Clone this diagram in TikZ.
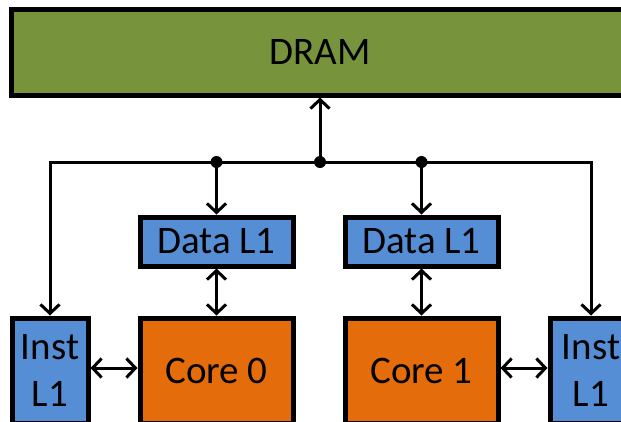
\documentclass[tikz,border=0pt]{standalone}
\usepackage{fontspec}
\setmainfont{Carlito}
\usetikzlibrary{arrows.meta}
\definecolor{dramgreen}{HTML}{77933C}
\definecolor{cacheblue}{HTML}{558ED5}
\definecolor{coreorange}{HTML}{E46C0A}
\tikzset{
  blk/.style={draw=black, line width=5pt, inner sep=0pt, text=black,
    font=\fontsize{39}{47}\selectfont, align=center},
  dramblk/.style={blk, fill=dramgreen},
  cacheblk/.style={blk, fill=cacheblue},
  coreblk/.style={blk, fill=coreorange},
  wire/.style={draw=black, line width=3pt},
  tip/.style={wire, -{Straight Barb[length=9pt,width=19pt,line width=3pt]}},
  dtip/.style={wire, {Straight Barb[length=9pt,width=19pt,line width=3pt]}-{Straight Barb[length=9pt,width=19pt,line width=3pt]}},
  junction/.style={circle, fill=black, inner sep=0pt, minimum size=12pt}
}
\begin{document}
\begin{tikzpicture}[x=1pt,y=-1pt]
\useasboundingbox (0,0) rectangle (621,421);
\clip (0,0) rectangle (621,421);
\fill[white] (0,0) rectangle (621,421);

% memory and caches
\node[dramblk, minimum width=617pt, minimum height=86pt] (dram) at (320,52) {DRAM};
\node[cacheblk, minimum width=153pt, minimum height=49pt] (dl0) at (216.5,241.5) {Data L1};
\node[cacheblk, minimum width=153pt, minimum height=49pt] (dl1) at (421.5,241.5) {Data L1};
\node[coreblk, minimum width=153pt, minimum height=105pt] (core0) at (216.5,370.5) {Core 0};
\node[coreblk, minimum width=153pt, minimum height=105pt] (core1) at (421.5,370.5) {Core 1};
\node[cacheblk, minimum width=76pt, minimum height=105pt] (inst0) at (50,370.5) {Inst\\L1};
\node[cacheblk, minimum width=82pt, minimum height=105pt] (inst1) at (591,370.5) {Inst\\L1};

% shared bus
\coordinate (busL) at (50,162);
\coordinate (busR) at (591,162);
\node[junction] (j0) at (216.5,162) {};
\node[junction] (jm) at (320,162) {};
\node[junction] (j1) at (421.5,162) {};

\draw[wire, line join=miter] (busL |- inst0.north) ++(0,-10) -- (busL) -- (busR) -- ++(0,10);
\draw[tip] (jm.center) -- (jm.center |- dram.south);
\draw[tip] (j0.center) -- (dl0.north);
\draw[tip] (j1.center) -- (dl1.north);
\draw[tip] (busL) -- (busL |- inst0.north);
\draw[tip] (busR) -- (busR |- inst1.north);

% core links
\draw[dtip] (dl0.south) -- (core0.north);
\draw[dtip] (dl1.south) -- (core1.north);
\draw[dtip] (inst0.east |- 0,368) -- (core0.west |- 0,368);
\draw[dtip] (core1.east |- 0,368) -- (inst1.west |- 0,368);
\end{tikzpicture}
\end{document}
